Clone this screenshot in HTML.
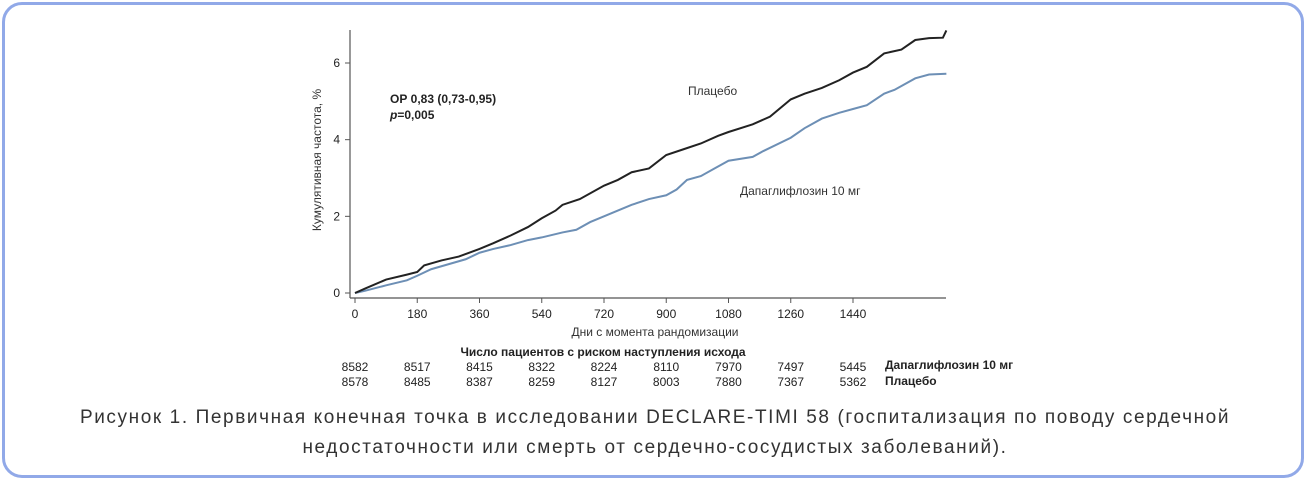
<!DOCTYPE html>
<html><head><meta charset="utf-8"><style>
body{margin:0;background:#fff;width:1310px;height:484px;overflow:hidden;font-family:"Liberation Sans",sans-serif}
.frame{position:absolute;left:2px;top:2px;width:1302px;height:476px;border:3px solid #91a9e8;border-radius:20px;box-sizing:border-box}
.cap{position:absolute;left:0;width:1310px;text-align:center;font-size:19px;color:#333;letter-spacing:1.6px}
</style></head><body>
<div class="frame"></div>
<svg id="chart" width="1310" height="400" style="position:absolute;left:0;top:0" font-family="Liberation Sans, sans-serif"></svg>
<div class="cap" style="top:407px">Рисунок 1. Первичная конечная точка в исследовании DECLARE-TIMI 58 (госпитализация по поводу сердечной</div>
<div class="cap" style="top:437px">недостаточности или смерть от сердечно-сосудистых заболеваний).</div>
<script>
const xTicks=[0,180,360,540,720,900,1080,1260,1440];
const yTicks=[0,2,4,6];
const placeboDays=[0,30,90,150,180,200,250,300,360,400,450,500,540,580,600,650,720,760,800,850,900,950,1000,1050,1080,1150,1200,1260,1300,1350,1400,1440,1480,1530,1580,1620,1660,1700,1710];
const placeboVals=[0,0.12,0.35,0.48,0.55,0.72,0.85,0.95,1.15,1.3,1.5,1.72,1.95,2.15,2.3,2.45,2.8,2.95,3.15,3.25,3.6,3.75,3.9,4.1,4.2,4.4,4.6,5.05,5.2,5.35,5.55,5.75,5.9,6.25,6.35,6.6,6.65,6.66,6.85];
const dapaDays=[0,30,90,150,180,220,270,320,360,400,450,500,540,600,640,680,720,760,800,850,900,930,960,1000,1040,1080,1150,1180,1260,1300,1350,1400,1440,1480,1530,1560,1620,1660,1710];
const dapaVals=[0,0.06,0.2,0.33,0.45,0.62,0.75,0.88,1.05,1.15,1.25,1.38,1.45,1.58,1.65,1.85,2.0,2.15,2.3,2.45,2.55,2.7,2.95,3.05,3.25,3.45,3.55,3.7,4.05,4.3,4.55,4.7,4.8,4.9,5.2,5.3,5.6,5.7,5.72];
const atRiskDapa=[8582,8517,8415,8322,8224,8110,7970,7497,5445];
const atRiskPlac=[8578,8485,8387,8259,8127,8003,7880,7367,5362];
const svg=document.getElementById('chart');
const NS='http://www.w3.org/2000/svg';
const X=d=>355+d*(853-355)/1440;
const Y=v=>293-v*(293-63)/6;
function mk(t,a,txt){const e=document.createElementNS(NS,t);for(const k in a)e.setAttribute(k,a[k]);if(txt!==undefined)e.textContent=txt;svg.appendChild(e);return e;}
let e;
e=mk('line',{x1:350,y1:298,x2:946,y2:298,stroke:'#555','stroke-width':1.2});


e=mk('line',{x1:350,y1:30,x2:350,y2:298,stroke:'#555','stroke-width':1.2});


xTicks.forEach(t=>{
 mk('line',{x1:X(t),y1:298,x2:X(t),y2:303,stroke:'#555'});
 e=mk('text',{x:X(t),y:318,'text-anchor':'middle','font-size':12,fill:'#222'},t);
 
 
});
yTicks.forEach(t=>{
 mk('line',{x1:345,y1:Y(t),x2:350,y2:Y(t),stroke:'#555'});
 e=mk('text',{x:340,y:Y(t)+4,'text-anchor':'end','font-size':12,fill:'#222'},t);
 
 
});
function stepPath(ds,vs){let p='M'+X(ds[0])+','+Y(vs[0]);for(let i=1;i<ds.length;i++){p+=' L'+X(ds[i])+','+Y(vs[i]);}return p;}
e=mk('path',{d:stepPath(dapaDays,dapaVals),fill:'none',stroke:'#6d8fb5','stroke-width':2});


e=mk('path',{d:stepPath(placeboDays,placeboVals),fill:'none',stroke:'#222','stroke-width':2});


e=mk('text',{x:0,y:0,transform:'translate(321,160) rotate(-90)','text-anchor':'middle','font-size':12,fill:'#333'},'Кумулятивная частота, %');


e=mk('text',{x:655,y:336,'text-anchor':'middle','font-size':12,fill:'#333'},'Дни с момента рандомизации');


e=mk('text',{x:390,y:103,'font-size':12,'font-weight':'bold',fill:'#222'},'ОР 0,83 (0,73-0,95)');


e=mk('text',{x:390,y:119,'font-size':12,'font-weight':'bold',fill:'#222'},'');
e.innerHTML='<tspan font-style="italic">p</tspan>=0,005';


e=mk('text',{x:688,y:95,'font-size':12,fill:'#333'},'Плацебо');


e=mk('text',{x:740,y:195,'font-size':12,fill:'#333'},'Дапаглифлозин 10 мг');


e=mk('text',{x:603,y:356,'text-anchor':'middle','font-size':12,'font-weight':'bold',fill:'#222'},'Число пациентов с риском наступления исхода');


xTicks.forEach((t,i)=>{
 e=mk('text',{x:X(t),y:371,'text-anchor':'middle','font-size':12,fill:'#222'},atRiskDapa[i]);
 
 
 e=mk('text',{x:X(t),y:386,'text-anchor':'middle','font-size':12,fill:'#222'},atRiskPlac[i]);
 
 
});
e=mk('text',{x:885,y:369,'font-size':12,'font-weight':'bold',fill:'#222'},'Дапаглифлозин 10 мг');


e=mk('text',{x:885,y:385,'font-size':12,'font-weight':'bold',fill:'#222'},'Плацебо');


</script>
</body></html>
